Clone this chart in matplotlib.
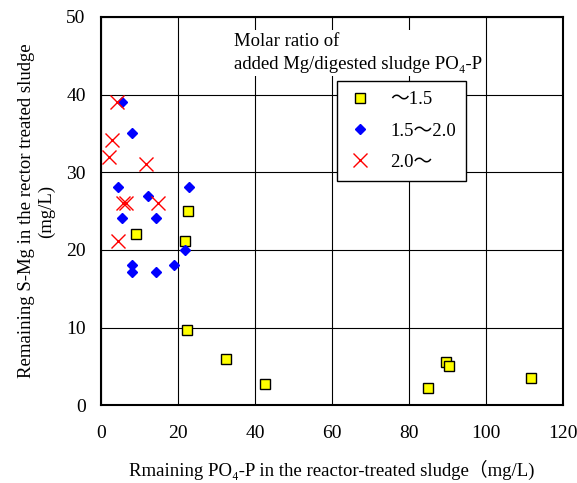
import matplotlib
matplotlib.use("Agg")
import matplotlib.pyplot as plt

plt.rcParams['font.family'] = ['Liberation Serif', 'Noto Sans CJK JP', 'DejaVu Serif']

# ~1.5
low_x = [9.2, 22.5, 21.8, 22.3, 32.5, 42.5, 85.0, 89.6, 90.3, 111.7]
low_y = [22.0, 25.0, 21.1, 9.75, 5.9, 2.7, 2.2, 5.6, 5.0, 3.5]
# 1.5~2.0
mid_x = [5.5, 8.0, 4.4, 22.9, 12.2, 5.4, 14.3, 21.7, 8.0, 8.0, 14.3, 19.0]
mid_y = [39.0, 35.0, 28.1, 28.1, 27.0, 24.1, 24.1, 20.0, 18.1, 17.1, 17.1, 18.1]
# 2.0~
high_x = [4.1, 2.9, 2.2, 11.6, 5.8, 6.6, 14.7, 4.4]
high_y = [39.0, 34.1, 32.0, 31.1, 26.1, 26.0, 26.0, 21.1]

labels = ['～1.5', '1.5～2.0', '2.0～']

fig = plt.figure(figsize=(5.77, 4.83), dpi=100)
ax = fig.add_axes([0.175, 0.161, 0.801, 0.804])

ax.plot(low_x, low_y, 's', color='#ffff00', mec='black', mew=1.0, ms=7, label=labels[0], zorder=3)
ax.plot(mid_x, mid_y, 'D', color='#0000ff', mec='#0000ff', ms=5, label=labels[1], zorder=3)
ax.plot(high_x, high_y, 'x', color='#ff0000', mew=1.0, ms=9.5, label=labels[2], zorder=3)

ax.set_xlim(0, 120)
ax.set_ylim(0, 50)
ax.set_xticks(range(0, 121, 20))
ax.set_yticks(range(0, 51, 10))
ax.grid(True, color='black', linewidth=0.8)
ax.set_axisbelow(True)
ax.tick_params(axis='x', length=0, pad=14, labelsize=14)
ax.tick_params(axis='y', length=0, pad=11, labelsize=14)
for s in ax.spines.values():
    s.set_linewidth(1.5)

ax.set_xlabel('Rmaining PO₄-P in the reactor-treated sludge（mg/L)', fontsize=13.5, labelpad=13)
ax.set_ylabel('Remaining S-Mg in the rector treated sludge\n(mg/L)', fontsize=13.5, labelpad=8)

ax.text(34.5, 47.9, 'Molar ratio of\nadded Mg/digested sludge PO₄-P', fontsize=13.5,
        va='top', ha='left', linespacing=1.45,
        bbox=dict(facecolor='white', edgecolor='none', pad=2))

leg = ax.legend(loc='upper left', bbox_to_anchor=(0.51, 0.835), fontsize=13.5,
                frameon=True, fancybox=False, edgecolor='black', framealpha=1,
                borderpad=0.55, labelspacing=0.75, handlelength=1.4,
                handletextpad=0.9, borderaxespad=0)
leg.get_frame().set_linewidth(1.0)

fig.savefig('out.png', dpi=100)
